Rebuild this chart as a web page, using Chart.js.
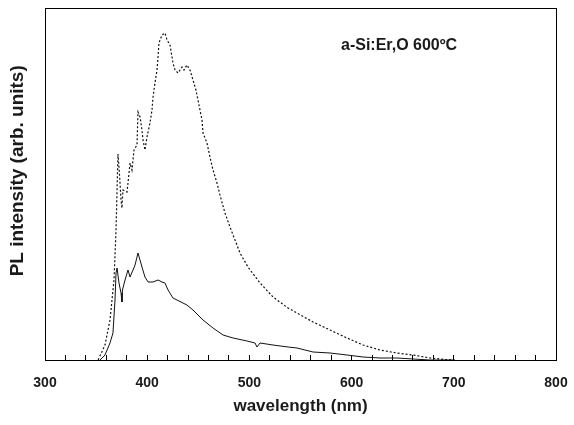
<!DOCTYPE html>
<html>
<head>
<meta charset="utf-8">
<script src="https://cdn.jsdelivr.net/npm/chart.js@4.4.0/dist/chart.umd.min.js"></script>
<style>
  html, body { margin: 0; padding: 0; background: #fff; }
  #wrap { width: 574px; height: 425px; }
</style>
</head>
<body>
<div id="wrap"><canvas id="c" width="574" height="425"></canvas></div>
<script>
// ── Datos ──────────────────────────────────────────────────────
// curva punteada (arriba)
const waveDash = [352, 358.7, 363.6, 367.5, 369.5, 371.4, 372.4, 373.4, 374.4, 375.3, 376.3, 380.2, 381.2, 383.2,
  385.1, 387.1, 390, 391, 393, 394.9, 395.9, 397.8, 399.8, 402.7, 404.7, 405.7, 407.6, 409.6, 410.6, 411.5,
  414.5, 417.4, 419.4, 422.3, 424.3, 425.2, 427.2, 430.1, 434.1, 436, 438.9, 441.9, 444.8, 447.7, 449.7,
  453.6, 454.6, 458.5, 461.4, 464.4, 468.3, 471.2, 476.1, 481, 485.9, 490.8, 498.6, 510.4, 523.1, 537.8,
  546.6, 562.2, 578.9, 595.5, 611.2, 627.8, 644.4, 660.1, 676.7, 691.4, 701.2];
const intDash = [0, 15, 40, 80, 130, 206, 193, 177, 160, 152, 170, 168, 177, 197,
  190, 210, 215, 248, 243, 230, 220, 210, 223, 237, 250, 263, 277, 290, 303, 317,
  325, 327, 320, 315, 303, 297, 290, 287, 293, 290, 295, 290, 280, 270, 260,
  240, 227, 217, 203, 190, 177, 165, 147, 133, 120, 107, 93, 77, 63, 52,
  47, 38, 30, 22, 15, 10, 7, 5, 2, 0.5, 0];

// curva continua (abajo)
const waveSolid = [353.8, 358.7, 363.6, 366.5, 368.5, 369.5, 370.5, 372.4, 374.4, 375.3, 375.8, 378.3, 381.2,
  383.2, 386.1, 388.1, 391, 394.9, 397.8, 400.8, 405.7, 410.6, 414.5, 417.4, 420.4, 425.2, 438.9, 444.8,
  454.6, 464.4, 474.2, 484, 497.7, 505.5, 507.4, 510.4, 523.1, 537.8, 546.6, 562.2, 578.9, 595.5, 611.2,
  627.8, 644.4, 660.1, 676.7, 700];
const intSolid = [0, 5, 17, 27, 60, 87, 92, 77, 67, 58, 70, 80, 90,
  83, 90, 95, 107, 93, 83, 78, 78, 80, 78, 77, 70, 62, 55, 50,
  40, 32, 25, 22, 19, 17, 13, 17, 15, 13, 12, 8, 7, 5, 3,
  2, 2, 1, 0, 0];

const xMin = 300, xMax = 800, xStep = 20;
const xLabels = [300, 400, 500, 600, 700, 800];
const yMin = 0, yMax = 352;

const annotation = 'a-Si:Er,O 600ºC';
const xTitle = 'wavelength (nm)';
const yTitle = '     PL intensity (arb. units)'; // espacios: título algo por encima del centro

const FONT = "'Liberation Sans', Arial, sans-serif";

function pts(xs, ys) { return xs.map((x, i) => ({ x: x, y: ys[i] })); }

// marco + anotación
const framePlugin = {
  id: 'frame',
  afterDraw(chart) {
    const a = chart.chartArea, ctx = chart.ctx;
    ctx.save();
    ctx.strokeStyle = '#000';
    ctx.lineWidth = 1;
    ctx.strokeRect(Math.round(a.left) + 0.5, Math.round(a.top) + 0.5,
      Math.round(a.right - a.left), Math.round(a.bottom - a.top));
    ctx.fillStyle = '#1a1a1a';
    ctx.font = 'bold 16px ' + FONT;
    ctx.textBaseline = 'middle';
    ctx.fillText(annotation, a.left + 296, a.top + 38);
    ctx.restore();
  }
};

new Chart(document.getElementById('c'), {
  type: 'line',
  data: {
    datasets: [
      { data: pts(waveDash, intDash), borderColor: '#111', borderWidth: 1.2, borderDash: [2, 2],
        pointRadius: 0, tension: 0, fill: false },
      { data: pts(waveSolid, intSolid), borderColor: '#111', borderWidth: 1,
        pointRadius: 0, tension: 0, fill: false }
    ]
  },
  options: {
    responsive: false,
    animation: false,
    events: [],
    layout: { padding: { top: 8, right: 18, left: 6, bottom: 0 } },
    plugins: { legend: { display: false }, tooltip: { enabled: false } },
    scales: {
      x: {
        type: 'linear', min: xMin, max: xMax,
        afterFit(s) { s.height = 65; s.paddingRight = 0; s.paddingLeft = 0; },
        afterBuildTicks(s) {
          const t = [];
          for (let v = xMin; v <= xMax; v += xStep) t.push({ value: v });
          s.ticks = t;
        },
        ticks: {
          autoSkip: false, maxRotation: 0, padding: 20,
          color: '#1a1a1a', font: { family: FONT, size: 14, weight: 'bold' },
          callback: (v) => xLabels.includes(v) ? String(v) : ''
        },
        grid: { drawOnChartArea: false, drawTicks: true, tickLength: -5, color: '#000' },
        border: { display: true, color: '#000', width: 1 },
        title: { display: true, text: xTitle, color: '#1a1a1a', padding: { top: 0, bottom: 8 },
          font: { family: FONT, size: 17, weight: 'bold' } }
      },
      y: {
        min: yMin, max: yMax,
        afterFit(s) { s.width = 39; },
        ticks: { display: false },
        grid: { display: false },
        border: { display: true, color: '#000', width: 1 },
        title: { display: true, text: yTitle, color: '#1a1a1a', padding: { top: 0, bottom: 0 },
          font: { family: FONT, size: 19, weight: 'bold' } }
      }
    }
  },
  plugins: [framePlugin]
});
</script>
</body>
</html>
